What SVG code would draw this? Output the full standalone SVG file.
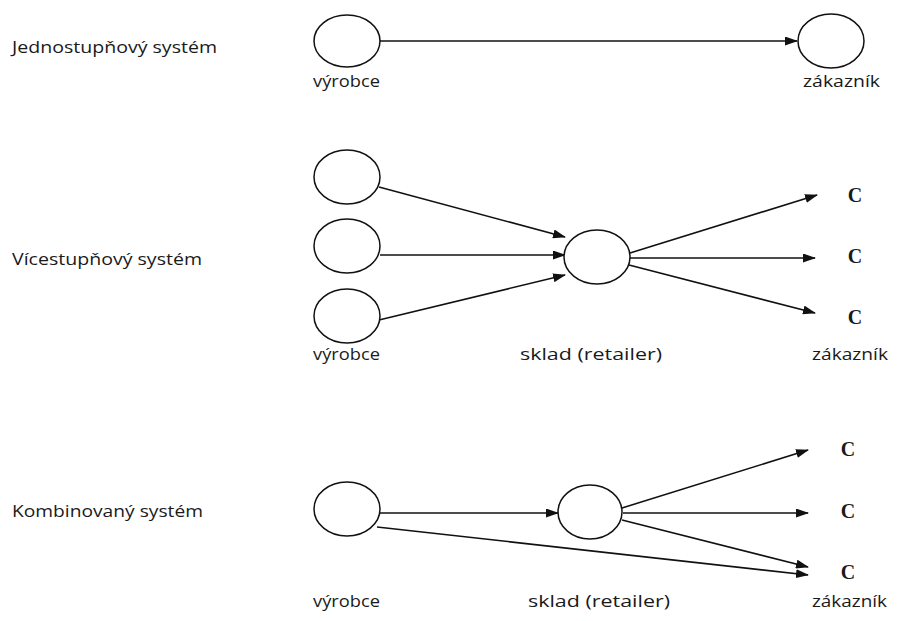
<svg xmlns="http://www.w3.org/2000/svg" width="897" height="621" viewBox="0 0 897 621">
  <style>
    .node { fill: #ffffff; stroke: #111111; stroke-width: 1.5; }
    .edge { fill: none; stroke: #111111; stroke-width: 1.6; }
    .lbl { font-family: "Open Sans", "Liberation Sans", sans-serif; font-size: 17px; fill: #1a1a1a; }
    .c { font-family: "Liberation Serif", "Times New Roman", serif; font-size: 20px; font-weight: bold; fill: #1a1a1a; text-anchor: middle; }
  </style>
  <defs>
    <marker id="arrow" markerUnits="userSpaceOnUse" markerWidth="13" markerHeight="9" refX="12" refY="4.5" orient="auto">
      <path d="M0,0 L13,4.5 L0,9 z" fill="#111111"/>
    </marker>
  </defs>
  <rect width="897" height="621" fill="#ffffff"/>

  <!-- section titles -->
  <text class="lbl" x="12" y="53" textLength="205" lengthAdjust="spacingAndGlyphs">Jednostupňový systém</text>
  <text class="lbl" x="12" y="265" textLength="190" lengthAdjust="spacingAndGlyphs">Vícestupňový systém</text>
  <text class="lbl" x="12" y="517" textLength="191" lengthAdjust="spacingAndGlyphs">Kombinovaný systém</text>

  <!-- connectors -->
  <g id="connectors">
    <line class="edge" x1="380" y1="41" x2="797" y2="41" marker-end="url(#arrow)"/>

    <line class="edge" x1="379" y1="187" x2="565" y2="237" marker-end="url(#arrow)"/>
    <line class="edge" x1="380" y1="255" x2="565" y2="255" marker-end="url(#arrow)"/>
    <line class="edge" x1="379" y1="320" x2="565" y2="275" marker-end="url(#arrow)"/>
    <line class="edge" x1="630" y1="253" x2="817" y2="195" marker-end="url(#arrow)"/>
    <line class="edge" x1="630" y1="258" x2="815" y2="258" marker-end="url(#arrow)"/>
    <line class="edge" x1="629" y1="265" x2="815" y2="313" marker-end="url(#arrow)"/>

    <line class="edge" x1="380" y1="513" x2="558" y2="513" marker-end="url(#arrow)"/>
    <line class="edge" x1="377" y1="527" x2="808" y2="575" marker-end="url(#arrow)"/>
    <line class="edge" x1="622" y1="508" x2="808" y2="450" marker-end="url(#arrow)"/>
    <line class="edge" x1="623" y1="513" x2="808" y2="513" marker-end="url(#arrow)"/>
    <line class="edge" x1="622" y1="520" x2="808" y2="567" marker-end="url(#arrow)"/>
  </g>

  <!-- single-stage -->
  <g id="s1-producer">
    <ellipse class="node" cx="347" cy="41" rx="33" ry="26"/>
    <text class="lbl" x="313" y="87" textLength="67" lengthAdjust="spacingAndGlyphs">výrobce</text>
  </g>
  <g id="s1-customer">
    <ellipse class="node" cx="831" cy="41" rx="33" ry="27"/>
    <text class="lbl" x="803" y="87" textLength="77" lengthAdjust="spacingAndGlyphs">zákazník</text>
  </g>

  <!-- multi-stage -->
  <g id="s2-producer-1"><ellipse class="node" cx="347" cy="177" rx="33" ry="27"/></g>
  <g id="s2-producer-2"><ellipse class="node" cx="347" cy="246" rx="33" ry="27"/></g>
  <g id="s2-producer-3">
    <ellipse class="node" cx="347" cy="316" rx="33" ry="27"/>
    <text class="lbl" x="313" y="360" textLength="67" lengthAdjust="spacingAndGlyphs">výrobce</text>
  </g>
  <g id="s2-retailer">
    <ellipse class="node" cx="597" cy="257" rx="33" ry="27"/>
    <text class="lbl" x="520" y="360" textLength="142" lengthAdjust="spacingAndGlyphs">sklad (retailer)</text>
  </g>
  <g id="s2-customers">
    <text class="c" x="855" y="202">C</text>
    <text class="c" x="855" y="263">C</text>
    <text class="c" x="855" y="324">C</text>
    <text class="lbl" x="812" y="360" textLength="76" lengthAdjust="spacingAndGlyphs">zákazník</text>
  </g>

  <!-- combined -->
  <g id="s3-producer">
    <ellipse class="node" cx="347" cy="509" rx="33" ry="27"/>
    <text class="lbl" x="313" y="607" textLength="67" lengthAdjust="spacingAndGlyphs">výrobce</text>
  </g>
  <g id="s3-retailer">
    <ellipse class="node" cx="590" cy="512" rx="32" ry="27"/>
    <text class="lbl" x="528" y="607" textLength="142" lengthAdjust="spacingAndGlyphs">sklad (retailer)</text>
  </g>
  <g id="s3-customers">
    <text class="c" x="848" y="456">C</text>
    <text class="c" x="848" y="518">C</text>
    <text class="c" x="848" y="579">C</text>
    <text class="lbl" x="812" y="607" textLength="75" lengthAdjust="spacingAndGlyphs">zákazník</text>
  </g>
</svg>
